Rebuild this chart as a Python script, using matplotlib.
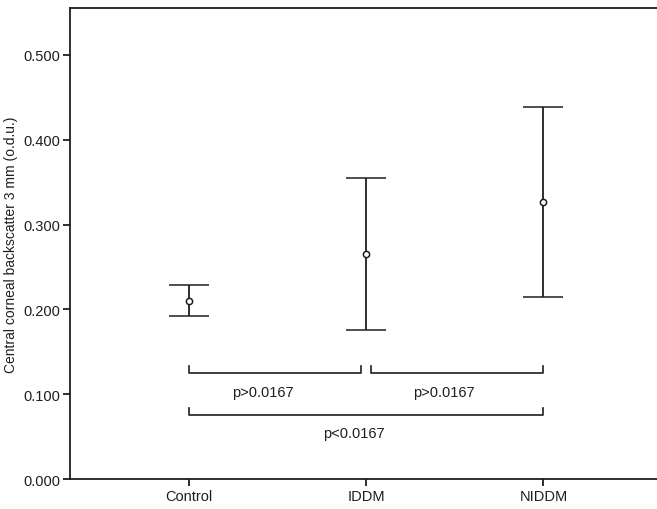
import matplotlib
matplotlib.use("Agg")
import matplotlib.pyplot as plt

plt.rcParams['font.family'] = ['Liberation Sans', 'DejaVu Sans']

# group means with 95% CI limits
groups = ['Control', 'IDDM', 'NIDDM']
means = [0.210, 0.265, 0.327]
lower = [0.192, 0.176, 0.214]
upper = [0.229, 0.355, 0.438]

# pairwise comparisons: (from group, to group, bracket height, label)
comparisons = [
    (0, 0.97, 0.125, 'p>0.0167'),
    (1.03, 2, 0.125, 'p>0.0167'),
    (0, 2, 0.076, 'p<0.0167'),
]
label_x = [0.42, 1.44, 0.93]

ink = '#1e1e1e'
x = list(range(len(groups)))

fig = plt.figure(figsize=(6.57, 5.1), dpi=100)
ax = fig.add_axes([0.1065, 0.0588, 0.8935, 0.9232])

err_lo = [m - l for m, l in zip(means, lower)]
err_hi = [u - m for m, u in zip(means, upper)]
ax.errorbar(x, means, yerr=[err_lo, err_hi], fmt='o', mfc='white', mec=ink,
            ms=4.5, mew=1.1, ecolor=ink, elinewidth=1.3, capsize=14.5, capthick=1.3,
            color=ink)

for (a, b, h, txt), tx in zip(comparisons, label_x):
    ax.plot([a, a, b, b], [h + 0.008, h, h, h + 0.008], color=ink, lw=1.2)
    ax.text(tx, h - 0.022, txt, ha='center', va='center', fontsize=10.5, color=ink)

ax.set_xlim(-0.67, 2.64)
ax.set_ylim(0, 0.555)
ax.set_xticks(x)
ax.set_xticklabels(groups)
ax.set_yticks([0, 0.1, 0.2, 0.3, 0.4, 0.5])
ax.set_yticklabels(['0.000', '0.100', '0.200', '0.300', '0.400', '0.500'])
ax.set_ylabel('Central corneal backscatter 3 mm (o.d.u.)', fontsize=10, color=ink, labelpad=4)

ax.spines['right'].set_visible(False)
for s in ['left', 'top', 'bottom']:
    ax.spines[s].set_linewidth(1.3)
    ax.spines[s].set_color(ink)
ax.tick_params(axis='both', direction='out', length=5, width=1.3, colors=ink, labelsize=10.5, pad=2)

fig.savefig('out.png', dpi=100)
